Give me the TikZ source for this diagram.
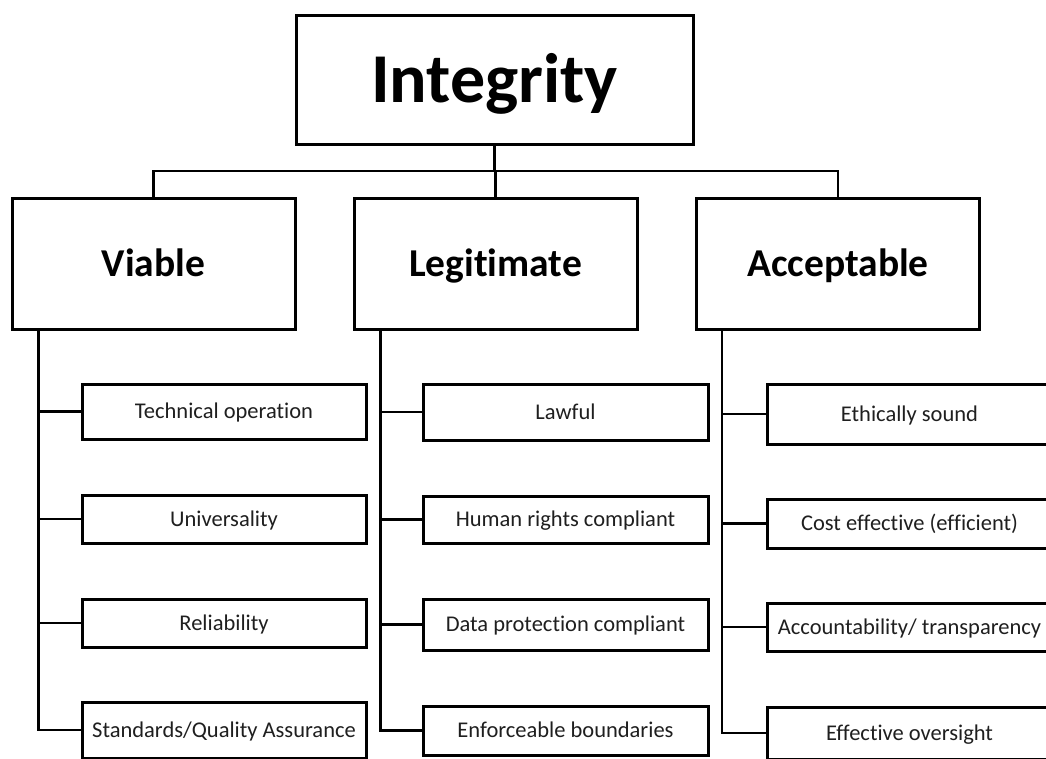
\documentclass[tikz,border=0pt]{standalone}
\usepackage{fontspec}
\setmainfont{Carlito}[Ligatures={NoCommon}]
\begin{document}
\begin{tikzpicture}[x=1pt,y=-1pt,
  topbox/.style={draw, line width=3pt, inner sep=0pt, minimum width=397pt, minimum height=129pt,
     font=\fontsize{70}{84}\selectfont\bfseries, text height=45pt, text depth=0pt},
  catbox/.style={draw, line width=3pt, inner sep=0pt, minimum width=283pt, minimum height=131pt,
     font=\fontsize{39.5}{47}\selectfont\bfseries, text height=25.4pt, text depth=0pt},
  subbox/.style={draw, line width=3pt, inner sep=0pt, minimum width=284pt,
     font=\fontsize{22.5}{27}\selectfont, text=black!88, text height=14.5pt, text depth=0pt},
  conn/.style={line width=2.2pt}]
\useasboundingbox (0,0) rectangle (1046,758);
\clip (0,0) rectangle (1046,758);
\fill[white] (0,0) rectangle (1046,758);

\node[topbox] (I) at (494.5,79.5) {Integrity};
\node[catbox] (V) at (153.5,263.5) {Viable};
\node[catbox] (L) at (495.5,263.5) {Legitimate};
\node[catbox] (A) at (838,263.5) {Acceptable};

% Viable column
\node[subbox, minimum height=55pt] (v1) at (224,411.5) {Technical operation};
\node[subbox, minimum height=48pt] (v2) at (224,519) {Universality};
\node[subbox, minimum height=48pt] (v3) at (224,623) {Reliability};
\node[subbox, minimum height=56pt] (v4) at (224,730) {Standards/Quality Assurance};
% Legitimate column
\node[subbox, minimum width=285pt, minimum height=56pt] (l1) at (565.5,412) {Lawful};
\node[subbox, minimum width=285pt, minimum height=47pt] (l2) at (565.5,519.5) {Human rights compliant};
\node[subbox, minimum width=285pt, minimum height=51pt] (l3) at (565.5,624.5) {Data protection compliant};
\node[subbox, minimum width=285pt, minimum height=49pt] (l4) at (565.5,730.5) {Enforceable boundaries};
% Acceptable column
\node[subbox, minimum width=285pt, minimum height=60pt] (a1) at (909.5,414) {Ethically sound};
\node[subbox, minimum width=285pt, minimum height=49pt] (a2) at (909.5,523.5) {Cost effective (efficient)};
\node[subbox, minimum width=285pt, minimum height=48pt] (a3) at (909.5,627) {Accountability/ transparency};
\node[subbox, minimum width=285pt, minimum height=52pt] (a4) at (909.5,733) {Effective oversight};

% top connectors
\coordinate (J) at (I.south |- 0,171);
\draw[conn] (I.south) -- (J);
\draw[conn] (V.north) |- (J) -| (A.north);
\draw[conn] (L.north) -- (L.north |- J);

% spines
\coordinate (Vs) at ([xshift=28pt]V.south west);
\coordinate (Ls) at ([xshift=28pt]L.south west);
\coordinate (As) at ([xshift=27pt]A.south west);
\draw[conn] (Vs) |- (v4.west);
\draw[conn] (Ls) |- (l4.west);
\draw[conn] (As) |- (a4.west);
\foreach \n in {v1,v2,v3} \draw[conn] (\n.west) -- (\n.west -| Vs);
\foreach \n in {l1,l2,l3} \draw[conn] (\n.west) -- (\n.west -| Ls);
\foreach \n in {a1,a2,a3} \draw[conn] (\n.west) -- (\n.west -| As);
\end{tikzpicture}
\end{document}
